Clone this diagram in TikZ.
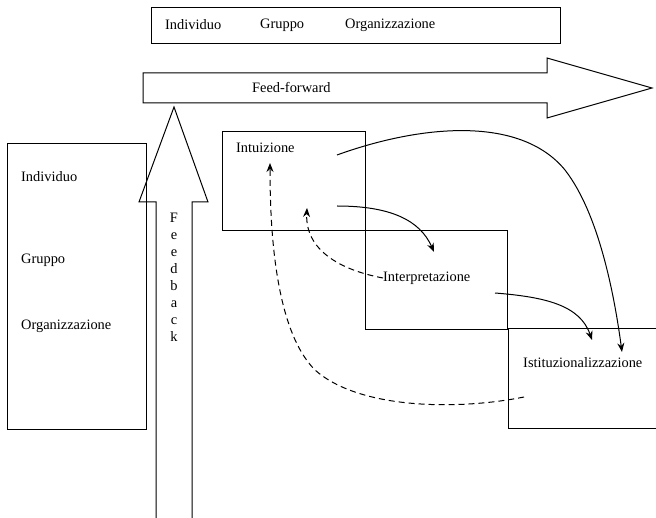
\documentclass[tikz,border=0pt]{standalone}
\usepackage{fontspec}
\setmainfont{Liberation Serif}
\usetikzlibrary{arrows.meta}
\begin{document}
\begin{tikzpicture}[x=1pt,y=-1pt,
  lbl/.style={anchor=west,inner sep=0pt,font=\fontsize{14.4}{17}\selectfont},
  frame/.style={draw,line width=1pt},
  flow/.style={line width=1pt,-{Stealth[length=9pt,width=7pt]}},
  back/.style={flow,dash pattern=on 6pt off 4pt}]
\useasboundingbox (0,0) rectangle (656,518);
% top box
\node[frame,anchor=north west,minimum width=409pt,minimum height=36pt,inner sep=0pt] (levels) at (151,7) {};
\node[lbl] (tind) at (165,25) {Individuo};
\node[lbl] (tgru) at (260,25) {Gruppo};
\node[lbl] (torg) at (345,25) {Organizzazione};
% feed-forward arrow
\draw[line width=1pt] (143,73) -- (547,73) -- (547,58) -- (652,88) -- (547,118) -- (547,103) -- (143,103) -- cycle;
\node[lbl] (ff) at (252,88) {Feed-forward};
% feedback arrow
\draw[line width=1pt] (156,518) -- (156,202) -- (139,202) -- (174,107) -- (208,202) -- (192,202) -- (192,518);
\node[inner sep=0pt,align=center,font=\fontsize{14.4}{17}\selectfont] (fb) at (174,277) {F\\e\\e\\d\\b\\a\\c\\k};
% left box
\node[frame,anchor=north west,minimum width=139pt,minimum height=286pt,inner sep=0pt] (left) at (7,143) {};
\node[lbl] (lind) at (21,177) {Individuo};
\node[lbl] (lgru) at (21,260) {Gruppo};
\node[lbl] (lorg) at (21,326) {Organizzazione};
% process boxes
\node[frame,anchor=north west,minimum width=143pt,minimum height=99pt,inner sep=0pt] (bint) at (222,131) {};
\node[lbl] (tint) at (236,148) {Intuizione};
\node[frame,anchor=north west,minimum width=142pt,minimum height=99pt,inner sep=0pt] (binp) at (365,230) {};
\node[lbl] (tinp) at (383,278) {Interpretazione};
\draw[line width=1pt] (656,329) -- (508,329) -- (508,429) -- (656,429);
\node[lbl] (tist) at (523,363) {Istituzionalizzazione};
% connector ends
\coordinate (a1) at (337,155);
\coordinate (a1e) at (622,352);
\coordinate (a2) at (337,206);
\coordinate (a2e) at (434,252);
\coordinate (a3) at (495,293);
\coordinate (a3e) at (592,340);
\coordinate (b1e) at (307,208);
\coordinate (b2) at (524,397);
\coordinate (b2e) at (270,163);
% solid flows
\draw[flow] (a1) .. controls (420,125) and (520,115) .. (565,170) .. controls (600,215) and (615,300) .. (a1e);
\draw[flow] (a2) .. controls (390,206) and (420,220) .. (a2e);
\draw[flow] (a3) .. controls (545,297) and (580,305) .. (a3e);
% dashed feedback flows
\draw[back] (tinp.west) .. controls (340,270) and (305,250) .. (b1e);
\draw[back] (b2) .. controls (460,410) and (360,410) .. (315,370) .. controls (275,330) and (270,230) .. (b2e);
\end{tikzpicture}
\end{document}
